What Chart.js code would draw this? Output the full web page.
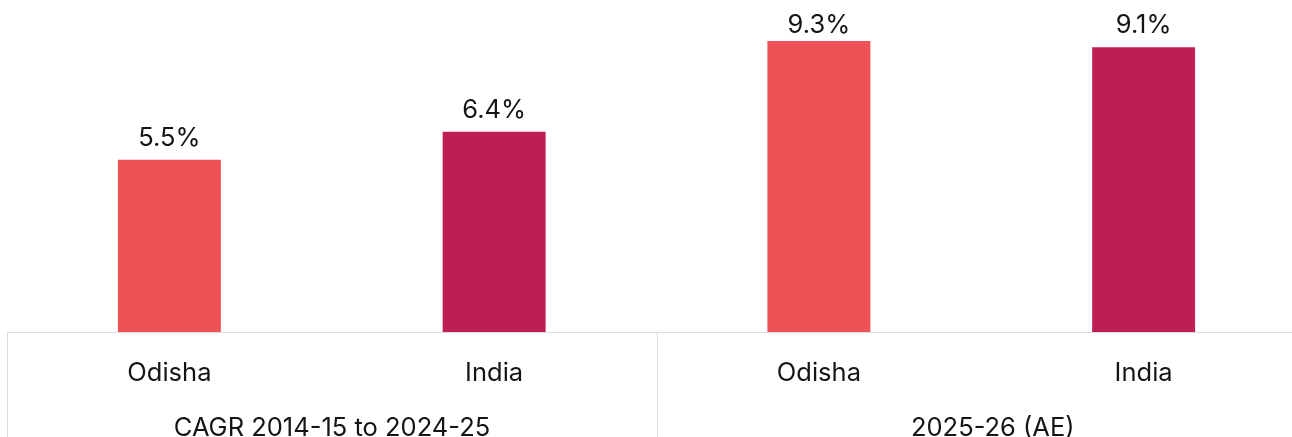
<!DOCTYPE html>
<html>
<head>
<meta charset="utf-8">
<script src="https://cdn.jsdelivr.net/npm/chart.js@4.4.1/dist/chart.umd.min.js"></script>
<style>
  html, body { margin: 0; padding: 0; background: #fff; overflow: hidden; }
  #wrap { position: absolute; left: 0; top: 0; width: 1330px; height: 470px; }
</style>
</head>
<body>
<div id="wrap"><canvas id="growthChart"></canvas></div>
<script>
const categories = ["Odisha", "India", "Odisha", "India"];
const groups = ["CAGR 2014-15 to 2024-25", "2025-26 (AE)"];
const groupSize = [2, 2];
const growth = [5.5, 6.4, 9.3, 9.1];
const barColors = ["#EF5256", "#BE1E52", "#EF5256", "#BE1E52"];

const FONT = "Inter, 'Noto Sans', sans-serif";

// draws value labels, the axis line, category labels and group labels
const axisPlugin = {
  id: "groupedAxis",
  afterDatasetsDraw(chart) {
    const { ctx, chartArea, scales } = chart;
    const x = scales.x;
    const base = chartArea.bottom + 0.5;
    const bottom = chart.height;

    ctx.save();
    ctx.fillStyle = "#151515";
    ctx.font = "25.5px " + FONT;
    ctx.textAlign = "center";
    ctx.textBaseline = "alphabetic";

    // value labels above bars (kept inside the top edge)
    chart.getDatasetMeta(0).data.forEach((bar, i) => {
      ctx.fillText(growth[i].toFixed(1) + "%", bar.x, Math.max(bar.y - 14, 33));
    });

    // axis line
    ctx.strokeStyle = "#dcdcdc";
    ctx.lineWidth = 1;
    ctx.beginPath();
    ctx.moveTo(chartArea.left, base);
    ctx.lineTo(chart.width, base);
    ctx.stroke();

    // category labels
    categories.forEach((c, i) => {
      ctx.fillText(c, x.getPixelForValue(i), base + 48);
    });

    // group separators and labels
    let start = 0;
    const half = (x.getPixelForValue(1) - x.getPixelForValue(0)) / 2;
    groups.forEach((g, gi) => {
      const end = start + groupSize[gi] - 1;
      const left = gi === 0 ? chartArea.left + 0.5 : Math.round(x.getPixelForValue(start) - half) + 0.5;
      ctx.beginPath();
      ctx.moveTo(left, base);
      ctx.lineTo(left, bottom);
      ctx.stroke();
      const right = gi === groups.length - 1 ? x.getPixelForValue(end) + half + 22 : x.getPixelForValue(end) + half;
      ctx.fillText(g, (left + right) / 2, base + 103);
      start = end + 1;
    });
    ctx.restore();
  }
};

new Chart(document.getElementById("growthChart"), {
  type: "bar",
  data: {
    labels: categories,
    datasets: [
      {
        data: growth,
        backgroundColor: barColors,
        borderWidth: 0,
        barPercentage: 0.317,
        categoryPercentage: 1,
      },
    ],
  },
  options: {
    responsive: true,
    maintainAspectRatio: false,
    animation: false,
    layout: { padding: { left: 7, right: 24, top: 19, bottom: 138 } },
    plugins: { legend: { display: false }, tooltip: { enabled: false } },
    scales: {
      x: { display: false },
      y: { display: false, min: 0, max: 10 },
    },
  },
  plugins: [axisPlugin],
});
</script>
</body>
</html>
